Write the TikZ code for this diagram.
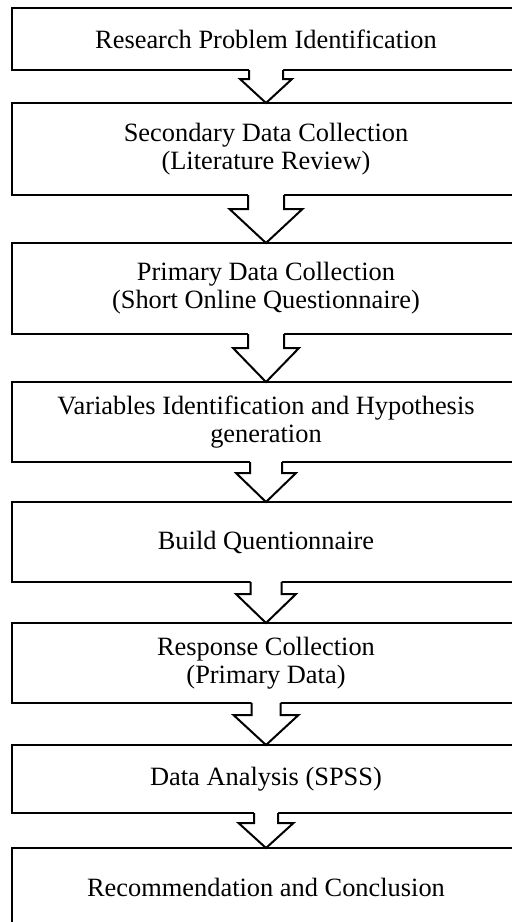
\documentclass[tikz,border=0pt]{standalone}
\usepackage{fontspec}
\setmainfont{Liberation Serif}
\usetikzlibrary{calc}

% hollow block arrow between two stages: from, to, half shaft, half head, head length
\newcommand{\flowarrow}[5]{%
  \fill[white] let \p1=(#1.south), \p2=(#2.north) in
    (\x1-#3,\y1+1pt) -- (\x1-#3,\y2+#5) -- (\x1-#4,\y2+#5) -- (\x2,\y2)
    -- (\x1+#4,\y2+#5) -- (\x1+#3,\y2+#5) -- (\x1+#3,\y1+1pt) -- cycle;
  \draw[flow] let \p1=(#1.south), \p2=(#2.north) in
    (\x1-#3,\y1) -- (\x1-#3,\y2+#5) -- (\x1-#4,\y2+#5) -- (\x2,\y2)
    -- (\x1+#4,\y2+#5) -- (\x1+#3,\y2+#5) -- (\x1+#3,\y1);
}

\begin{document}
\begin{tikzpicture}[x=0.5pt, y=-0.5pt,
  stage/.style={draw, line width=1pt, minimum width=254pt, outer sep=0pt,
    inner sep=2pt, align=center, font=\fontsize{13.2}{14}\selectfont},
  flow/.style={line width=1pt, line join=miter}]
\useasboundingbox (0,0) rectangle (512,922);
\clip (0,0) rectangle (512,922);
% stages
\node[stage, minimum height=31pt] (problem) at (266,39) {Research Problem Identification};
\node[stage, minimum height=46pt] (secondary) at (266,149) {Secondary Data Collection\\(Literature Review)};
\node[stage, minimum height=45.5pt] (primary) at (266,288.5) {Primary Data Collection\\(Short Online Questionnaire)};
\node[stage, minimum height=40pt] (variables) at (266,422) {Variables Identification and Hypothesis\\generation};
\node[stage, minimum height=40pt] (build) at (266,542) {Build Quentionnaire};
\node[stage, minimum height=40pt] (response) at (266,663) {Response Collection\\(Primary Data)};
\node[stage, minimum height=34pt] (analysis) at (266,779) {Data Analysis (SPSS)};
\node[stage, minimum height=39pt] (recommend) at (266,887) {Recommendation and Conclusion};
% arrows
\flowarrow{problem}{secondary}{8.5pt}{13pt}{12pt}
\flowarrow{secondary}{primary}{9pt}{18.25pt}{17pt}
\flowarrow{primary}{variables}{9pt}{16.5pt}{17pt}
\flowarrow{variables}{build}{8pt}{15pt}{14.5pt}
\flowarrow{build}{response}{7.75pt}{15pt}{14.5pt}
\flowarrow{response}{analysis}{7.25pt}{16.25pt}{15pt}
\flowarrow{analysis}{recommend}{6pt}{13.75pt}{12.5pt}
\end{tikzpicture}
\end{document}
